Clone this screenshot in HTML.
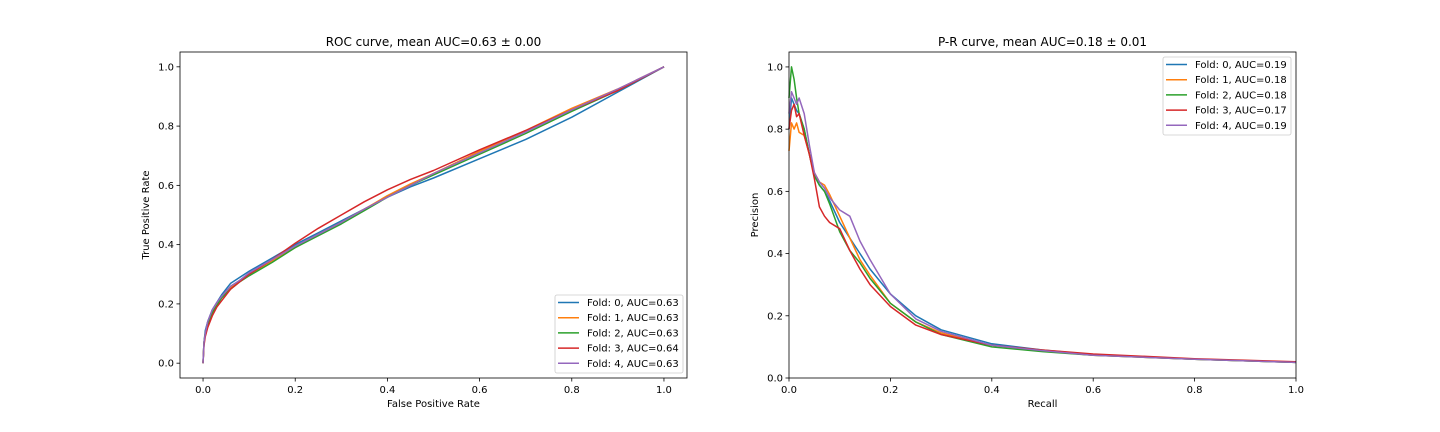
<!DOCTYPE html>
<html><head><meta charset="utf-8"><style>
html,body{margin:0;padding:0;background:#fff;}
svg{display:block;font-family:"DejaVu Sans","Liberation Sans",sans-serif;}
</style></head><body>
<svg id="c" width="1440" height="432"></svg>
<script>
const colors=['#1f77b4','#ff7f0e','#2ca02c','#d62728','#9467bd'];
const rocLabels=['Fold: 0, AUC=0.63','Fold: 1, AUC=0.63','Fold: 2, AUC=0.63','Fold: 3, AUC=0.64','Fold: 4, AUC=0.63'];
const prLabels=['Fold: 0, AUC=0.19','Fold: 1, AUC=0.18','Fold: 2, AUC=0.18','Fold: 3, AUC=0.17','Fold: 4, AUC=0.19'];
const rocFpr=[0,0.002,0.005,0.01,0.02,0.03,0.04,0.06,0.08,0.1,0.15,0.2,0.25,0.3,0.35,0.4,0.45,0.5,0.6,0.7,0.8,0.9,1.0];
const rocTpr0=[0,0.07,0.11,0.14,0.18,0.205,0.23,0.27,0.29,0.31,0.355,0.40,0.44,0.48,0.52,0.56,0.595,0.625,0.69,0.755,0.83,0.915,1];
const rocTpr1=[0,0.07,0.10,0.13,0.17,0.195,0.22,0.255,0.28,0.30,0.345,0.39,0.435,0.475,0.52,0.565,0.605,0.64,0.715,0.785,0.86,0.925,1];
const rocTpr2=[0,0.07,0.10,0.13,0.17,0.195,0.22,0.25,0.275,0.295,0.34,0.39,0.43,0.47,0.515,0.56,0.6,0.635,0.705,0.775,0.85,0.92,1];
const rocTpr3=[0,0.06,0.09,0.12,0.16,0.19,0.21,0.25,0.275,0.30,0.35,0.405,0.455,0.50,0.545,0.585,0.62,0.65,0.72,0.785,0.855,0.92,1];
const rocTpr4=[0,0.07,0.10,0.14,0.18,0.205,0.225,0.26,0.28,0.305,0.35,0.395,0.435,0.475,0.52,0.56,0.6,0.64,0.71,0.78,0.855,0.925,1];
const prRecall=[0,0.005,0.01,0.015,0.02,0.03,0.04,0.05,0.06,0.07,0.08,0.1,0.12,0.14,0.16,0.2,0.25,0.3,0.4,0.5,0.6,0.8,1.0];
const prPrec0=[0.8,0.9,0.88,0.86,0.85,0.8,0.72,0.65,0.62,0.6,0.57,0.5,0.45,0.4,0.35,0.27,0.2,0.155,0.11,0.09,0.075,0.06,0.05];
const prPrec1=[0.73,0.82,0.8,0.82,0.79,0.78,0.72,0.66,0.63,0.62,0.59,0.52,0.45,0.38,0.33,0.24,0.18,0.145,0.105,0.087,0.073,0.06,0.05];
const prPrec2=[0.9,1.0,0.96,0.9,0.85,0.8,0.72,0.65,0.62,0.6,0.56,0.47,0.41,0.37,0.32,0.24,0.18,0.14,0.1,0.085,0.073,0.06,0.05];
const prPrec3=[0.8,0.86,0.88,0.84,0.85,0.78,0.72,0.64,0.55,0.52,0.5,0.48,0.41,0.35,0.3,0.23,0.17,0.14,0.105,0.09,0.077,0.062,0.052];
const prPrec4=[0.85,0.92,0.9,0.88,0.9,0.85,0.75,0.66,0.63,0.61,0.58,0.54,0.52,0.44,0.38,0.27,0.19,0.15,0.105,0.088,0.073,0.06,0.05];
const ticks=[0,0.2,0.4,0.6,0.8,1.0];
const tickLabels=['0.0','0.2','0.4','0.6','0.8','1.0'];

const NS='http://www.w3.org/2000/svg';
const svg=document.getElementById('c');
function mk(tag,attrs,parent,text){const e=document.createElementNS(NS,tag);for(const k in attrs)e.setAttribute(k,attrs[k]);if(text!==undefined)e.textContent=text;(parent||svg).appendChild(e);return e;}

function panel(p){
  const g=mk('g',{});
  
  
  const sx=v=>p.x0+(v-p.xmin)/(p.xmax-p.xmin)*(p.x1-p.x0);
  const sy=v=>p.y1-(v-p.ymin)/(p.ymax-p.ymin)*(p.y1-p.y0);
  p.series.forEach((ys,i)=>{
    let d='';
    p.xs.forEach((x,j)=>{d+=(j?'L':'M')+sx(x).toFixed(1)+','+sy(ys[j]).toFixed(1);});
    const l=mk('path',{d:d,fill:'none',stroke:colors[i],'stroke-width':1.5,'stroke-linejoin':'round'},g);
    
    
  });
  const fr=mk('rect',{x:p.x0,y:p.y0,width:p.x1-p.x0,height:p.y1-p.y0,fill:'none',stroke:'#000','stroke-width':0.8},g);
  
  
  ticks.forEach((t,i)=>{
    const X=sx(t);
    mk('line',{x1:X,x2:X,y1:p.y1,y2:p.y1+3.5,stroke:'#000','stroke-width':0.8},g);
    const tl=mk('text',{x:X,y:p.y1+15,'font-size':10,'text-anchor':'middle',fill:'#000'},g,tickLabels[i]);
    
    
    const Y=sy(t);
    mk('line',{x1:p.x0-3.5,x2:p.x0,y1:Y,y2:Y,stroke:'#000','stroke-width':0.8},g);
    const yl=mk('text',{x:p.x0-6,y:Y+3.5,'font-size':10,'text-anchor':'end',fill:'#000'},g,tickLabels[i]);
    
    
  });
  const t=mk('text',{x:(p.x0+p.x1)/2,y:p.y0-6,'font-size':12,'text-anchor':'middle',fill:'#000'},g,p.title);
  
  
  const xt=mk('text',{x:(p.x0+p.x1)/2,y:p.y1+29,'font-size':10,'text-anchor':'middle',fill:'#000'},g,p.xlabel);
  
  
  const cy=(p.y0+p.y1)/2;
  const yt=mk('text',{x:p.x0-31,y:cy,'font-size':10,'text-anchor':'middle',fill:'#000',transform:'rotate(-90 '+(p.x0-31)+' '+cy+')'},g,p.ylabel);
  
  
  const lg=mk('g',{},g);
  
  
  mk('rect',{x:p.lx,y:p.ly,width:128,height:78,rx:2,fill:'#fff','fill-opacity':0.8,stroke:'#ccc','stroke-width':0.8},lg);
  p.labels.forEach((lab,i)=>{
    const ey=p.ly+7.5+i*15.2;
    const e=mk('g',{},lg);
    
    
    mk('line',{x1:p.lx+3,x2:p.lx+24,y1:ey,y2:ey,stroke:colors[i],'stroke-width':1.5},e);
    mk('text',{x:p.lx+32,y:ey+3.5,'font-size':10,fill:'#000'},e,lab);
  });
}
panel({name:'roc-panel',x0:180,x1:687,y0:52,y1:378,xmin:-0.05,xmax:1.05,ymin:-0.05,ymax:1.05,
  xs:rocFpr,series:[rocTpr0,rocTpr1,rocTpr2,rocTpr3,rocTpr4],labels:rocLabels,
  title:'ROC curve, mean AUC=0.63 \u00b1 0.00',xlabel:'False Positive Rate',ylabel:'True Positive Rate',lx:555,ly:295});
panel({name:'pr-panel',x0:789,x1:1296,y0:52,y1:378,xmin:0,xmax:1,ymin:0,ymax:1.048,
  xs:prRecall,series:[prPrec0,prPrec1,prPrec2,prPrec3,prPrec4],labels:prLabels,
  title:'P-R curve, mean AUC=0.18 \u00b1 0.01',xlabel:'Recall',ylabel:'Precision',lx:1163,ly:57});
</script>
</body></html>
